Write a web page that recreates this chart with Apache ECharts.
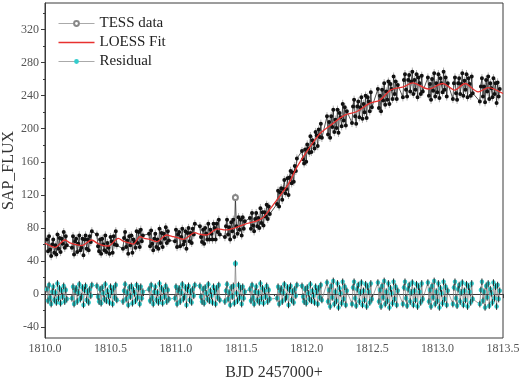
<!DOCTYPE html>
<html>
<head>
<meta charset="utf-8">
<script src="https://cdn.jsdelivr.net/npm/echarts@6/dist/echarts.min.js"></script>
<style>html,body{margin:0;padding:0;background:#fff}#c{width:520px;height:379px}</style>
</head>
<body>
<div id="c"></div>
<script>
// ---- data ----
const chunkStart = [1810.015, 1810.206, 1810.397, 1810.596, 1810.795, 1810.993, 1811.184, 1811.375, 1811.566,
  1811.773, 1811.964, 1812.155, 1812.346, 1812.544, 1812.735, 1812.926, 1813.117, 1813.323];
const cadence = 0.008; // days between samples inside a chunk

const tessFlux = [
  [66,52,70,54,46,60,66,50,59,48,72,55,68,51,67,61,75,56,70,59],
  [56,70,48,64,67,51,61,71,53,56,67,47,66,71,55,66,53,70,63,76],
  [72,58,52,66,49,67,60,53,71,51,62,56,49,69,64,50,70,60,76,59],
  [55,68,75,57,65,49,70,59,71,50,66,63,56,76,62,75,57,78,64,71],
  [73,58,77,61,53,67,73,57,66,55,79,62,74,57,73,67,81,62,76,65],
  [64,78,57,72,75,58,69,79,60,64,76,55,74,80,64,74,62,79,72,85],
  [82,69,63,78,61,80,73,66,85,66,78,73,66,85,80,66,85,75,90,72],
  [69,82,90,72,81,66,87,76,90,69,117,82,73,93,78,90,71,93,79,88],
  [92,79,98,83,76,91,98,82,92,80,104,86,99,83,99,94,108,91,106,97],
  [109,125,106,123,128,114,127,138,122,127,140,120,141,149,134,147,136,155,149,164],
  [173,163,158,175,160,181,176,171,191,172,186,182,176,196,192,179,199,190,206,189],
  [215,193,208,189,215,202,223,196,211,201,223,195,219,214,203,230,210,226,204,221],
  [207,227,235,215,206,227,233,214,226,238,212,230,220,240,213,238,233,221,244,226],
  [248,225,240,221,247,234,255,229,245,235,257,230,254,248,236,263,242,257,236,253],
  [238,259,266,247,239,259,265,245,257,269,242,259,247,266,238,262,255,242,264,245],
  [262,240,254,235,260,246,267,239,255,244,266,237,261,255,244,269,247,262,239,255],
  [236,255,262,243,235,255,261,242,254,267,240,258,247,266,238,261,254,240,263,243],
  [233,251,261,239,251,232,259,245,263,236,255,249,238,261,242,255,231,256,239,248]
];

const residual = [
  [6,-8,11,-4,-12,3,9,-7,2,-10,13,-5,7,-11,4,-3,10,-9,5,-6],
  [-5,9,-12,4,7,-9,2,12,-6,-3,8,-13,5,10,-7,3,-10,6,-2,11],
  [10,-3,-9,6,-11,8,1,-6,12,-8,4,-2,-10,9,3,-12,7,-4,11,-7],
  [-9,4,12,-6,2,-13,8,-3,10,-11,5,1,-8,11,-4,7,-12,9,-5,3],
  [6,-8,11,-4,-12,3,9,-7,2,-10,13,-5,7,-11,4,-3,10,-9,5,-6],
  [-5,9,-12,4,7,-9,2,12,-6,-3,8,-13,5,10,-7,3,-10,6,-2,11],
  [10,-3,-9,6,-11,8,1,-6,12,-8,4,-2,-10,9,3,-12,7,-4,11,-7],
  [-9,4,12,-6,2,-13,8,-3,10,-11,37,1,-8,11,-4,7,-12,9,-5,3],
  [6,-8,11,-4,-12,3,9,-7,2,-10,13,-5,7,-11,4,-3,10,-9,5,-6],
  [-5,9,-12,4,7,-9,2,12,-6,-3,8,-13,5,10,-7,3,-10,6,-2,11],
  [10,-3,-9,6,-11,8,1,-6,12,-8,4,-2,-10,9,3,-12,7,-4,11,-7],
  [14,-9,5,-15,10,-4,16,-12,3,-8,13,-16,7,1,-11,15,-6,9,-13,4],
  [-12,8,15,-5,-14,6,11,-9,2,14,-13,4,-7,12,-15,9,3,-10,13,-6],
  [14,-9,5,-15,10,-4,16,-12,3,-8,13,-16,7,1,-11,15,-6,9,-13,4],
  [-12,8,15,-5,-14,6,11,-9,2,14,-13,4,-7,12,-15,9,3,-10,13,-6],
  [14,-9,5,-15,10,-4,16,-12,3,-8,13,-16,7,1,-11,15,-6,9,-13,4],
  [-12,8,15,-5,-14,6,11,-9,2,14,-13,4,-7,12,-15,9,3,-10,13,-6],
  [-12,5,15,-8,3,-16,10,-4,13,-14,6,1,-10,14,-5,9,-15,11,-6,4]
];

const loessTime = [1810.00,1810.04,1810.076,1810.153,1810.19,1810.229,1810.28,1810.357,1810.40,1810.433,1810.484,
  1810.56,1810.60,1810.637,1810.675,1810.726,1810.76,1810.802,1810.853,1810.929,1810.97,1811.006,1811.057,1811.146,
  1811.18,1811.23,1811.32,1811.38,1811.45,1811.53,1811.60,1811.66,1811.73,1811.80,1811.86,1811.92,1811.97,1812.025,
  1812.10,1812.18,1812.29,1812.38,1812.48,1812.56,1812.64,1812.74,1812.81,1812.93,1813.04,1813.13,1813.21,1813.31,
  1813.39,1813.50];
const loessFlux = [61.5,58.5,56.6,65.5,62,60.3,58.6,65.5,61.5,59.4,58.2,
  67.5,64,62.2,60.6,69.5,67.5,66.3,63.4,71.5,70,68.7,66.3,74.3,
  72.5,71.5,79,77.6,80,84.8,87.6,91.7,105,119.8,133,152,165,178,
  194,204,216.5,220.5,230.6,234.6,246.7,250.7,255.5,248,254.7,246.7,254.7,244.5,
  249.8,242.6];

const xTicks = [1810.0, 1810.5, 1811.0, 1811.5, 1812.0, 1812.5, 1813.0, 1813.5];
const yTicks = [-40, 0, 40, 80, 120, 160, 200, 240, 280, 320];
const yMinorTicks = [-20, 20, 60, 100, 140, 180, 220, 260, 300, 340];
const errTess = 5, errRes = 4;

// ---- build series data ----
const tessPts = [], resPts = [], tessErr = [], resErr = [];
chunkStart.forEach((s, c) => {
  tessFlux[c].forEach((v, i) => {
    const t = +(s + i * cadence).toFixed(4);
    const r = residual[c][i];
    const outlier = r > 30;
    tessPts.push(outlier ? {value: [t, v], symbolSize: 5, itemStyle: {color: '#888'}} : [t, v]);
    tessErr.push([t, v - errTess, v + errTess]);
    resPts.push(outlier ? {value: [t, r], symbolSize: 5} : [t, r]);
    resErr.push([t, r - errRes, r + errRes]);
  });
});
const loessPts = loessTime.map((t, i) => [t, loessFlux[i]]);

function errBar(color, w) {
  return function (params, api) {
    const x = api.value(0);
    const a = api.coord([x, api.value(1)]);
    const b = api.coord([x, api.value(2)]);
    return {type: 'line', shape: {x1: a[0], y1: a[1], x2: b[0], y2: b[1]}, style: {stroke: color, lineWidth: w}};
  };
}

const serif = 'Liberation Serif, Times New Roman, serif';
const chart = echarts.init(document.getElementById('c'), null, {renderer: 'canvas'});
chart.setOption({
  animation: false,
  backgroundColor: '#fff',
  grid: {left: 45, right: 17, top: 3, bottom: 41, show: true, borderColor: '#3a3a3a', borderWidth: 1,
    containLabel: false, outerBoundsMode: 'none'},
  legend: {
    orient: 'vertical', left: 53, top: 11, itemWidth: 36, itemHeight: 6, itemGap: 4,
    textStyle: {fontFamily: serif, fontSize: 15, color: '#222'},
    data: [
      {name: 'TESS data', itemStyle: {color: '#888', borderWidth: 1}, lineStyle: {color: '#aaa', width: 1}},
      {name: 'LOESS Fit', icon: 'path://M0,0L36,0L36,1.3L0,1.3Z', itemStyle: {color: '#e8312f'}},
      {name: 'Residual', itemStyle: {color: '#33cccc'}, lineStyle: {color: '#aaa', width: 1}}
    ]
  },
  xAxis: {
    type: 'value', min: 1810.0, max: 1813.5, interval: 0.5,
    name: 'BJD 2457000+', nameLocation: 'middle', nameGap: 27,
    nameTextStyle: {fontFamily: serif, fontSize: 16, color: '#333'},
    axisLine: {show: true, lineStyle: {color: '#3a3a3a'}},
    axisTick: {show: true, inside: false, length: 4, lineStyle: {color: '#3a3a3a'}},
    minorTick: {show: true, splitNumber: 2, length: 2, lineStyle: {color: '#3a3a3a'}},
    axisLabel: {fontFamily: serif, fontSize: 12, color: '#555', margin: 5, formatter: v => v.toFixed(1)},
    splitLine: {show: false}
  },
  yAxis: [{
    type: 'value', min: -53, max: 352,
    name: 'SAP_FLUX', nameLocation: 'middle', nameGap: 28, nameMoveOverlap: false,
    nameTextStyle: {fontFamily: serif, fontSize: 16, color: '#333'},
    axisLine: {show: true, lineStyle: {color: '#3a3a3a'}},
    axisTick: {show: true, length: 4, customValues: yTicks, lineStyle: {color: '#3a3a3a'}},
    axisLabel: {fontFamily: serif, fontSize: 12, color: '#555', margin: 6, customValues: yTicks},
    splitLine: {show: false}
  }, {
    type: 'value', min: -53, max: 352, position: 'left',
    axisLine: {show: false},
    axisTick: {show: true, length: 2, customValues: yMinorTicks, lineStyle: {color: '#3a3a3a'}},
    axisLabel: {show: false},
    splitLine: {show: false}
  }],
  series: [
    {name: 'TESS err', type: 'custom', renderItem: errBar('#b0b0b0', 1), data: tessErr,
      encode: {x: 0, y: [1, 2]}, z: 1, silent: true},
    {name: 'TESS data', type: 'line', data: tessPts, symbol: 'emptyCircle', symbolSize: 2,
      showAllSymbol: true, itemStyle: {color: '#111', borderWidth: 0.8},
      lineStyle: {color: '#2a2a2a', width: 0.8}, z: 2},
    {name: 'LOESS Fit', type: 'line', data: loessPts, smooth: 0.3, showSymbol: false, symbol: 'none',
      itemStyle: {color: '#e8312f'}, lineStyle: {color: '#e8312f', width: 1.3}, z: 3},
    {name: 'Residual', type: 'line', data: resPts, symbol: 'circle', symbolSize: 4.5, showAllSymbol: true,
      itemStyle: {color: '#33cccc'}, lineStyle: {color: '#777', width: 0.7}, z: 2},
    {name: 'Res err', type: 'custom', renderItem: errBar('#1a1a1a', 0.9), data: resErr,
      encode: {x: 0, y: [1, 2]}, z: 3, silent: true}
  ]
});
</script>
</body>
</html>
